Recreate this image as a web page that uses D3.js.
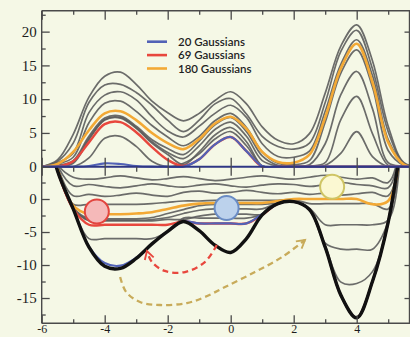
<!DOCTYPE html>
<html><head><meta charset="utf-8">
<script src="https://cdn.jsdelivr.net/npm/d3@7"></script>
<style>
html,body{margin:0;padding:0;background:#f5f8e6;}
svg{display:block;}
</style></head><body>
<svg id="chart" width="410" height="337"></svg>
<script>
// ---------- data ----------
const xs = [-6,-5.5,-5,-4.5,-4,-3.5,-3,-2.5,-2,-1.5,-1,-0.5,0,0.5,1,1.5,2,2.5,3,3.5,4,4.5,5,5.5,6];

// free energy surface (bottom panel, black)
const freeEnergy = [14,4.3,-1.5,-7.3,-10.2,-10.5,-9.0,-6.8,-4.9,-3.4,-4.8,-7.0,-8.1,-6.0,-2.4,-0.7,-0.4,-1.6,-7.3,-14.6,-18.0,-12.5,-3.5,11,25];

// bias potentials (top panel)
const biasBlue   = [0,0,0,0.1,0.5,0.4,0.1,0,0,0,1.1,3.3,4.4,2.3,0.1,0,0,0,0,0,0,0,0,0,0];
const biasRed    = [0,0,0.8,3.6,6.3,6.6,5.1,2.9,1.0,0.1,1.1,3.3,4.4,2.3,0,0,0,0,0,0,0,0,0,0,0];
const biasOrange = [0,0.4,2.2,5.4,7.9,8.2,6.9,5.0,3.5,2.6,4.1,6.4,7.4,5.6,2.2,0.7,0.6,1.8,7.3,14.6,18.2,12.5,3.6,0.3,0];
const biasGrayA  = [0,0,0,1.3,4.2,4.5,3.0,0.8,0,0.5,1.9,4.1,5.2,3.1,0.1,0,0,0,0,0,0,0,0,0,0];
const biasGrayB  = [0,0,0.5,4.0,6.9,7.2,5.7,3.5,1.8,0.3,2.2,4.7,5.8,3.7,0.1,0,0,0,0.2,2.0,5.2,1.5,0,0,0];
const biasGrayC  = [0,0.1,0.7,4.2,7.0,7.3,5.8,3.7,2.1,1.2,3.1,5.5,6.6,4.5,0.9,0.1,0,0.1,0.6,7.0,10.4,4.9,0.2,0,0];
const biasGrayD  = [0,0.2,0.9,4.5,7.2,7.5,6.0,4.0,2.7,1.8,3.8,6.2,7.3,5.2,1.6,0.2,0.1,0.3,3.4,10.7,14.1,8.6,0.6,0.1,0];
const biasGrayE  = [0,0.4,1.4,6.5,9.4,9.7,8.2,6.1,4.4,3.1,4.5,6.8,7.9,5.8,2.2,0.5,0.3,0.9,6.6,13.9,17.3,11.8,2.4,0.2,0];
const biasGrayF  = [0,0.6,2.0,8.0,10.6,11.1,9.9,7.4,5.3,4.4,6.0,7.9,9.1,7.3,3.4,1.5,1.4,2.3,8.2,15.2,18.8,13.5,4.0,0.4,0];
const biasGrayG  = [0,0.8,3.5,9.5,12.1,12.2,11.0,9.1,6.9,5.2,6.9,9.3,10.1,7.8,4.5,3.0,2.6,3.5,9.5,17.1,20.2,14.5,5.2,0.5,0];
const biasGrayH  = [0,1.0,4.8,10.3,13.4,14.0,12.2,9.7,8.0,6.8,7.9,9.8,11.1,9.3,5.9,3.9,3.4,4.9,10.9,17.9,21.0,15.7,6.0,0.6,0];

// free energy + bias (bottom panel)
const sumBlue   = [14,4.3,-1.5,-7.2,-9.7,-10.1,-8.9,-6.8,-4.9,-3.4,-3.7,-3.7,-3.7,-3.7,-2.3,-0.7,-0.4,-1.6,-7.3,-14.6,-18.0,-12.5,-3.5,11,25];
const sumRed    = [14,4.3,-1.5,-3.9,-3.9,-3.9,-3.9,-3.9,-3.9,-3.4,-3.7,-3.7,-3.7,-3.7,-2.4,-0.7,-0.4,-1.6,-7.3,-14.6,-18.0,-12.5,-3.5,11,25];
const sumOrange = [14,4.6,-1.0,-2.3,-2.3,-2.3,-2.2,-2.0,-1.5,-1.0,-0.7,-0.6,-0.6,-0.6,-0.6,-0.3,0.0,0.0,0.0,0.0,0.0,-0.8,-0.3,11.3,25];
const sumGrayA  = [14,4.3,-1.5,-6.0,-6.0,-6.0,-6.0,-6.0,-4.9,-2.9,-2.9,-2.9,-2.9,-2.9,-2.3,-0.7,-0.4,-1.6,-7.3,-14.6,-18.0,-12.5,-3.5,11,25];
const sumGrayB  = [14,4.3,-1.4,-3.3,-3.3,-3.3,-3.3,-3.3,-3.1,-3.1,-2.6,-2.3,-2.3,-2.3,-2.3,-0.7,-0.4,-1.6,-7.1,-12.6,-12.8,-11.0,-3.5,11,25];
const sumGrayC  = [14,4.35,-1.4,-3.2,-3.2,-3.2,-3.2,-3.1,-2.8,-2.2,-1.7,-1.5,-1.5,-1.5,-1.5,-0.6,-0.4,-1.5,-6.7,-7.6,-7.6,-7.6,-3.4,11,25];
const sumGrayD  = [14,4.4,-1.3,-3.0,-3.0,-3.0,-3.0,-2.8,-2.2,-1.6,-1.0,-0.8,-0.8,-0.8,-0.8,-0.6,-0.3,-1.4,-3.9,-3.9,-3.9,-3.9,-3.2,11.1,25];
const sumGrayE  = [14,4.6,-0.8,-0.8,-0.8,-0.8,-0.8,-0.7,-0.5,-0.3,-0.3,-0.2,-0.2,-0.2,-0.2,-0.2,-0.1,-0.7,-0.7,-0.7,-0.7,-0.7,-1.5,11.2,25];
const sumGrayF  = [14,4.9,0.5,0.7,0.4,0.6,0.9,0.6,0.4,1.0,1.2,0.9,1.0,1.3,1.0,0.8,1.0,0.7,0.9,0.6,0.8,1.0,0.5,11.4,25];
const sumGrayG  = [14,5.1,2.0,2.2,1.9,1.7,2.0,2.3,2.0,1.8,2.1,2.3,2.0,1.8,2.1,2.3,2.2,1.9,2.2,2.5,2.2,2.0,1.7,11.5,25];
const sumGrayH  = [14,5.3,3.3,3.0,3.2,3.5,3.2,2.9,3.1,3.4,3.1,2.8,3.0,3.3,3.5,3.2,3.0,3.3,3.6,3.3,3.0,3.2,2.5,11.6,25];

const legendLabels = ["20 Gaussians","69 Gaussians","180 Gaussians"];
const xTickValues = [-6,-4,-2,0,2,4];
const xMinorValues = [-5,-3,-1,1,3,5];
const topTickValues = [0,5,10,15,20];
const topMinorValues = [2.5,7.5,12.5,17.5,22.5];
const botTickValues = [0,-5,-10,-15];
const botMinorValues = [2.5,-2.5,-7.5,-12.5,-17.5];

// walkers (balls) in bottom-panel data coordinates
const ballX = [-4.25,-0.13,3.22];
const ballY = [-1.9,-1.36,1.86];

// dashed arrows in bottom-panel data coordinates
const redArrowX = [-0.44,-0.82,-1.45,-2.09,-2.5,-2.66];
const redArrowY = [-6.97,-9.55,-11.06,-10.9,-9.55,-7.88];
const tanArrowX = [-3.51,-3.32,-2.88,-2.24,-1.39,-0.82,-0.18,0.77,1.63,2.36];
const tanArrowY = [-11.82,-14.09,-15.6,-16.06,-15.76,-14.85,-13.33,-11.06,-8.79,-6.21];

// ---------- drawing ----------
const COL = {blue:"#5262b6", red:"#e8473d", orange:"#f3a935", gray:"#5c5c5c", black:"#111111",
             axis:"#4a4a4a", navy:"#2f3785", tan:"#c8ab5a", bg:"#f5f8e6"};
const ballFill = ["#f5b9b9","#bcd2ec","#fbf8d2"];
const ballStroke = ["#e2453f","#6a8cc4","#cfc565"];

const svg = d3.select("#chart");
svg.append("rect").attr("width",410).attr("height",337).attr("fill",COL.bg);

const x = d3.scaleLinear().domain([-6,5.7]).range([41.7,410.25]);
const yTop = d3.scaleLinear().domain([0,23.1]).range([166.7,10.7]);
const yBot = d3.scaleLinear().domain([-18.83,4.85]).range([323.3,167]);

const defs = svg.append("defs");
defs.append("clipPath").attr("id","clipTop").append("rect")
  .attr("x",x(-6)).attr("y",yTop(23.1)).attr("width",380).attr("height",yTop(0)-yTop(23.1)+1.2);
defs.append("clipPath").attr("id","clipBot").append("rect")
  .attr("x",x(-6)).attr("y",yBot(4.85)).attr("width",380).attr("height",yBot(-18.83)-yBot(4.85));

const curve = d3.curveCatmullRom.alpha(0.5);
const lineTop = d3.line().x((d,i)=>x(xs[i])).y(d=>yTop(d)).curve(curve);
const lineBot = d3.line().x((d,i)=>x(xs[i])).y(d=>yBot(d)).curve(curve);

const gTop = svg.append("g").attr("clip-path","url(#clipTop)");
const gBot = svg.append("g").attr("clip-path","url(#clipBot)");

const grayBias = [biasGrayA,biasGrayB,biasGrayC,biasGrayD,biasGrayE,biasGrayF,biasGrayG,biasGrayH];
const graySum  = [sumGrayA,sumGrayB,sumGrayC,sumGrayD,sumGrayE,sumGrayF,sumGrayG,sumGrayH];

function drawSet(g, line, grays, orange, red, blue) {
  g.selectAll("path.gray").data(grays).enter().append("path").attr("class","gray")
    .attr("d",line).attr("fill","none").attr("stroke",COL.gray).attr("stroke-width",1.7)
    .attr("stroke-opacity",0.9);
  g.append("path").attr("d",line(orange)).attr("fill","none").attr("stroke",COL.orange).attr("stroke-width",2.6);
  g.append("path").attr("d",line(red)).attr("fill","none").attr("stroke",COL.red).attr("stroke-width",2.4);
  g.append("path").attr("d",line(blue)).attr("fill","none").attr("stroke",COL.blue).attr("stroke-width",2.2);
}
drawSet(gTop, lineTop, grayBias, biasOrange, biasRed, biasBlue);
drawSet(gBot, lineBot, graySum, sumOrange, sumRed, sumBlue);
gBot.append("path").attr("d",lineBot(freeEnergy)).attr("fill","none")
  .attr("stroke",COL.black).attr("stroke-width",3.4).attr("stroke-linejoin","round");

// separator (zero line of top panel)
svg.append("line").attr("x1",x(-6)).attr("x2",410).attr("y1",yTop(0)).attr("y2",yTop(0))
  .attr("stroke",COL.navy).attr("stroke-width",2);

// balls
svg.selectAll("circle.ball").data(ballX).enter().append("circle").attr("class","ball")
  .attr("cx",d=>x(d)).attr("cy",(d,i)=>yBot(ballY[i])).attr("r",12)
  .attr("fill",(d,i)=>ballFill[i]).attr("stroke",(d,i)=>ballStroke[i]).attr("stroke-width",2);

// arrows
function arrowHead(id,color){
  defs.append("marker").attr("id",id).attr("viewBox","0 0 10 10").attr("refX",8).attr("refY",5)
    .attr("markerWidth",5).attr("markerHeight",5).attr("markerUnits","strokeWidth").attr("orient","auto")
    .append("path").attr("d","M1,1 L8,5 L1,9").attr("fill","none").attr("stroke",color).attr("stroke-width",1.6);
}
arrowHead("headRed",COL.red);
arrowHead("headTan",COL.tan);
const arrowLine = d3.line().x(d=>x(d[0])).y(d=>yBot(d[1])).curve(d3.curveCatmullRom.alpha(0.5));
svg.append("path").attr("d",arrowLine(redArrowX.map((v,i)=>[v,redArrowY[i]])))
  .attr("fill","none").attr("stroke",COL.red).attr("stroke-width",2.3).attr("stroke-dasharray","6,4")
  .attr("marker-end","url(#headRed)");
svg.append("path").attr("d",arrowLine(tanArrowX.map((v,i)=>[v,tanArrowY[i]])))
  .attr("fill","none").attr("stroke",COL.tan).attr("stroke-width",2.3).attr("stroke-dasharray","6,4")
  .attr("marker-end","url(#headTan)");

// ---------- axes ----------
const fmt = d => String(d);
function styleAxis(g){
  g.select(".domain").remove();
  g.selectAll(".tick line").attr("stroke",COL.axis).attr("stroke-width",1.3);
  g.selectAll(".tick text").attr("fill","#1d1d1d").style("font-family","'Liberation Serif', serif").style("font-size","15px");
}
// left: top panel
svg.append("g").attr("transform",`translate(${x(-6)},0)`)
  .call(d3.axisLeft(yTop).tickValues(topTickValues).tickSize(-8).tickPadding(5).tickFormat(fmt)).call(styleAxis);
svg.append("g").attr("transform",`translate(${x(-6)},0)`)
  .call(d3.axisLeft(yTop).tickValues(topMinorValues).tickSize(-4).tickFormat("")).call(styleAxis);
// left: bottom panel
svg.append("g").attr("transform",`translate(${x(-6)},0)`)
  .call(d3.axisLeft(yBot).tickValues(botTickValues).tickSize(-8).tickPadding(5).tickFormat(fmt)).call(styleAxis);
svg.append("g").attr("transform",`translate(${x(-6)},0)`)
  .call(d3.axisLeft(yBot).tickValues(botMinorValues).tickSize(-4).tickFormat("")).call(styleAxis);
// right
const xRight = 409.5;
svg.append("g").attr("transform",`translate(${xRight},0)`)
  .call(d3.axisRight(yTop).tickValues(topTickValues.slice(1)).tickSize(-5).tickFormat("")).call(styleAxis);
svg.append("g").attr("transform",`translate(${xRight},0)`)
  .call(d3.axisRight(yBot).tickValues(botTickValues.slice(1)).tickSize(-5).tickFormat("")).call(styleAxis);
// bottom
const xAxisG = svg.append("g").attr("transform",`translate(0,${yBot(-18.83)})`)
  .call(d3.axisBottom(x).tickValues(xTickValues).tickSize(-8).tickPadding(1).tickFormat(fmt)).call(styleAxis);
xAxisG.selectAll(".tick text").style("font-size","12px");
svg.append("g").attr("transform",`translate(0,${yBot(-18.83)})`)
  .call(d3.axisBottom(x).tickValues(xMinorValues).tickSize(-4).tickFormat("")).call(styleAxis);
// top border
svg.append("g").attr("transform",`translate(0,${yTop(23.1)})`)
  .call(d3.axisTop(x).tickValues(xTickValues).tickSize(-9).tickFormat("")).call(styleAxis);
svg.append("g").attr("transform",`translate(0,${yTop(23.1)})`)
  .call(d3.axisTop(x).tickValues(xMinorValues).tickSize(-4).tickFormat("")).call(styleAxis);
// middle separator ticks
svg.append("g").attr("transform",`translate(0,${yTop(0)})`)
  .call(d3.axisTop(x).tickValues(xTickValues).tickSize(9).tickFormat("")).call(styleAxis);
svg.append("g").attr("transform",`translate(0,${yTop(0)})`)
  .call(d3.axisBottom(x).tickValues(xTickValues).tickSize(9).tickFormat("")).call(styleAxis);
svg.append("g").attr("transform",`translate(0,${yTop(0)})`)
  .call(d3.axisBottom(x).tickValues(xMinorValues).tickSize(5).tickFormat("")).call(styleAxis);

// frame
const frame = svg.append("g").attr("stroke",COL.axis).attr("stroke-width",1.4).attr("fill","none");
frame.append("line").attr("x1",x(-6)).attr("x2",x(-6)).attr("y1",yTop(23.1)).attr("y2",yBot(-18.83));
frame.append("line").attr("x1",xRight).attr("x2",xRight).attr("y1",yTop(23.1)).attr("y2",yBot(-18.83));
frame.append("line").attr("x1",x(-6)).attr("x2",410).attr("y1",yTop(23.1)).attr("y2",yTop(23.1));
frame.append("line").attr("x1",x(-6)).attr("x2",410).attr("y1",yBot(-18.83)).attr("y2",yBot(-18.83));

// ---------- legend ----------
const legendColors = [COL.blue, COL.red, COL.orange];
const lg = svg.append("g");
legendLabels.forEach((t,i)=>{
  const yy = 41.7 + i*13.4;
  lg.append("line").attr("x1",147).attr("x2",167).attr("y1",yy).attr("y2",yy)
    .attr("stroke",legendColors[i]).attr("stroke-width",2.6);
  lg.append("text").attr("x",178).attr("y",yy).attr("dy","0.35em").text(t)
    .style("font-family","Lato, 'Open Sans', sans-serif").style("font-size","11.5px")
    .style("font-weight","600").attr("fill","#1e1e1e");
});
</script>
</body></html>
